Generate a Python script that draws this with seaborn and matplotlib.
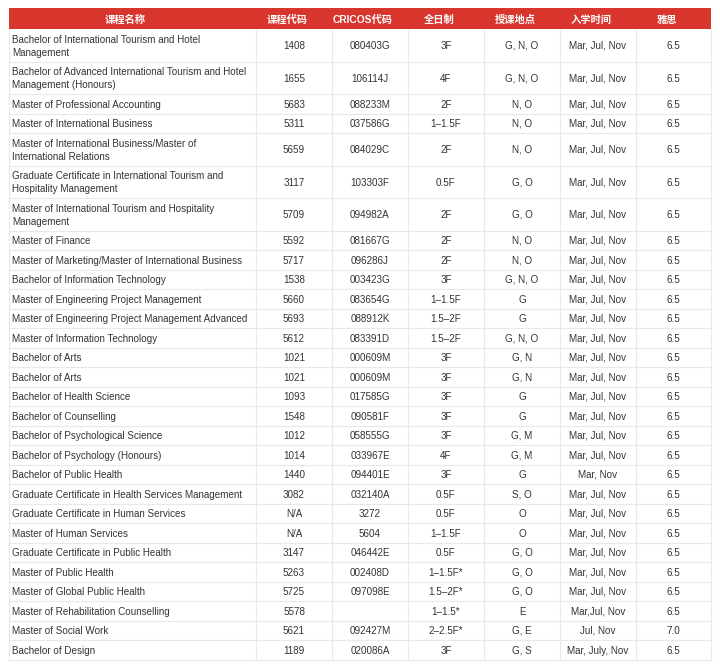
import math
import seaborn as sns
import matplotlib.pyplot as plt

headers = ["课程名称", "课程代码", "CRICOS代码", "全日制", "授课地点", "入学时间", "雅思"]

names = [
    "Bachelor of International Tourism and Hotel\nManagement",
    "Bachelor of Advanced International Tourism and Hotel\nManagement (Honours)",
    "Master of Professional Accounting",
    "Master of International Business",
    "Master of International Business/Master of\nInternational Relations",
    "Graduate Certificate in International Tourism and\nHospitality Management",
    "Master of International Tourism and Hospitality\nManagement",
    "Master of Finance",
    "Master of Marketing/Master of International Business",
    "Bachelor of Information Technology",
    "Master of Engineering Project Management",
    "Master of Engineering Project Management Advanced",
    "Master of Information Technology",
    "Bachelor of Arts",
    "Bachelor of Arts",
    "Bachelor of Health Science",
    "Bachelor of Counselling",
    "Bachelor of Psychological Science",
    "Bachelor of Psychology (Honours)",
    "Bachelor of Public Health",
    "Graduate Certificate in Health Services Management",
    "Graduate Certificate in Human Services",
    "Master of Human Services",
    "Graduate Certificate in Public Health",
    "Master of Public Health",
    "Master of Global Public Health",
    "Master of Rehabilitation Counselling",
    "Master of Social Work",
    "Bachelor of Design",
]
codes = ["1408", "1655", "5683", "5311", "5659", "3117", "5709", "5592", "5717", "1538",
         "5660", "5693", "5612", "1021", "1021", "1093", "1548", "1012", "1014", "1440",
         "3082", "N/A", "N/A", "3147", "5263", "5725", "5578", "5621", "1189"]
cricos = ["080403G", "106114J", "088233M", "037586G", "084029C", "103303F", "094982A",
          "081667G", "096286J", "003423G", "083654G", "088912K", "083391D", "000609M",
          "000609M", "017585G", "090581F", "058555G", "033967E", "094401E", "032140A",
          "3272", "5604", "046442E", "002408D", "097098E", "", "092427M", "020086A"]
duration = ["3F", "4F", "2F", "1–1.5F", "2F", "0.5F", "2F", "2F", "2F", "3F",
            "1–1.5F", "1.5–2F", "1.5–2F", "3F", "3F", "3F", "3F", "3F", "4F", "3F",
            "0.5F", "0.5F", "1–1.5F", "0.5F", "1–1.5F*", "1.5–2F*", "1–1.5*", "2–2.5F*", "3F"]
campus = ["G, N, O", "G, N, O", "N, O", "N, O", "N, O", "G, O", "G, O", "N, O", "N, O", "G, N, O",
          "G", "G", "G, N, O", "G, N", "G, N", "G", "G", "G, M", "G, M", "G",
          "S, O", "O", "O", "G, O", "G, O", "G, O", "E", "G, E", "G, S"]
intake = ["Mar, Jul, Nov"] * 19 + ["Mar, Nov"] + ["Mar, Jul, Nov"] * 6 + \
         ["Mar,Jul, Nov", "Jul, Nov", "Mar, July, Nov"]
ielts = ["6.5"] * 27 + ["7.0", "6.5"]

columns = [names, codes, cricos, duration, campus, intake, ielts]

# column edges in pixels
col_edges = [9, 256, 332, 408, 484, 560, 636, 711]
header_top, header_bottom = 8, 29
line_h = 13       # px between text lines
pad = 6.5         # px of vertical padding per row
base_off = 3.6    # baseline sits this far below the visual centre
red = "#d8352c"
grid = "#e9e9e9"
text_color = "#333333"


def snap(v):
    # keep every baseline on the same sub-pixel phase so Agg rounding doesn't jitter
    return math.floor(v) + 0.55


sns.set_theme(style="white")
plt.rcParams['font.family'] = ['Liberation Sans', 'Noto Sans CJK SC', 'DejaVu Sans']

fig = plt.figure(figsize=(7.2, 6.68), dpi=100)
ax = fig.add_axes([0, 0, 1, 1])
ax.set_xlim(0, 720)
ax.set_ylim(668, 0)
ax.axis('off')

# header band (header labels sit a bit left of the cell centre, as in the source)
ax.fill_between([col_edges[0], col_edges[-1]], header_top, header_bottom, color=red, lw=0)
for i, h in enumerate(headers):
    xc = (col_edges[i] + col_edges[i + 1]) / 2 - 7
    ax.text(xc, snap((header_top + header_bottom) / 2 + 3.8), h, ha='center', va='baseline',
            color='white', fontsize=7.4, fontweight='bold',
            family=['Liberation Sans', 'Noto Sans CJK SC'])

# body rows, height from number of text lines
y = header_bottom
row_tops = []
for r in range(len(names)):
    lines = names[r].split("\n")
    h = pad + line_h * len(lines)
    row_tops.append(y)
    yc = y + h / 2
    first = yc - line_h * (len(lines) - 1) / 2
    for k, line in enumerate(lines):
        ax.text(col_edges[0] + 3.5, snap(first + k * line_h + base_off), line, ha='left',
                va='baseline', color=text_color, fontsize=7.1)
    for c in range(1, len(columns)):
        xc = (col_edges[c] + col_edges[c + 1]) / 2
        ax.text(xc, snap(yc + base_off), columns[c][r], ha='center', va='baseline',
                color=text_color, fontsize=7.1)
    y += h
bottom = y

ax.hlines(row_tops[1:] + [bottom], col_edges[0], col_edges[-1], color=grid, lw=0.8)
ax.vlines(col_edges, header_bottom, bottom, color=grid, lw=0.8)

plt.savefig('out.png', dpi=100, facecolor='white')
